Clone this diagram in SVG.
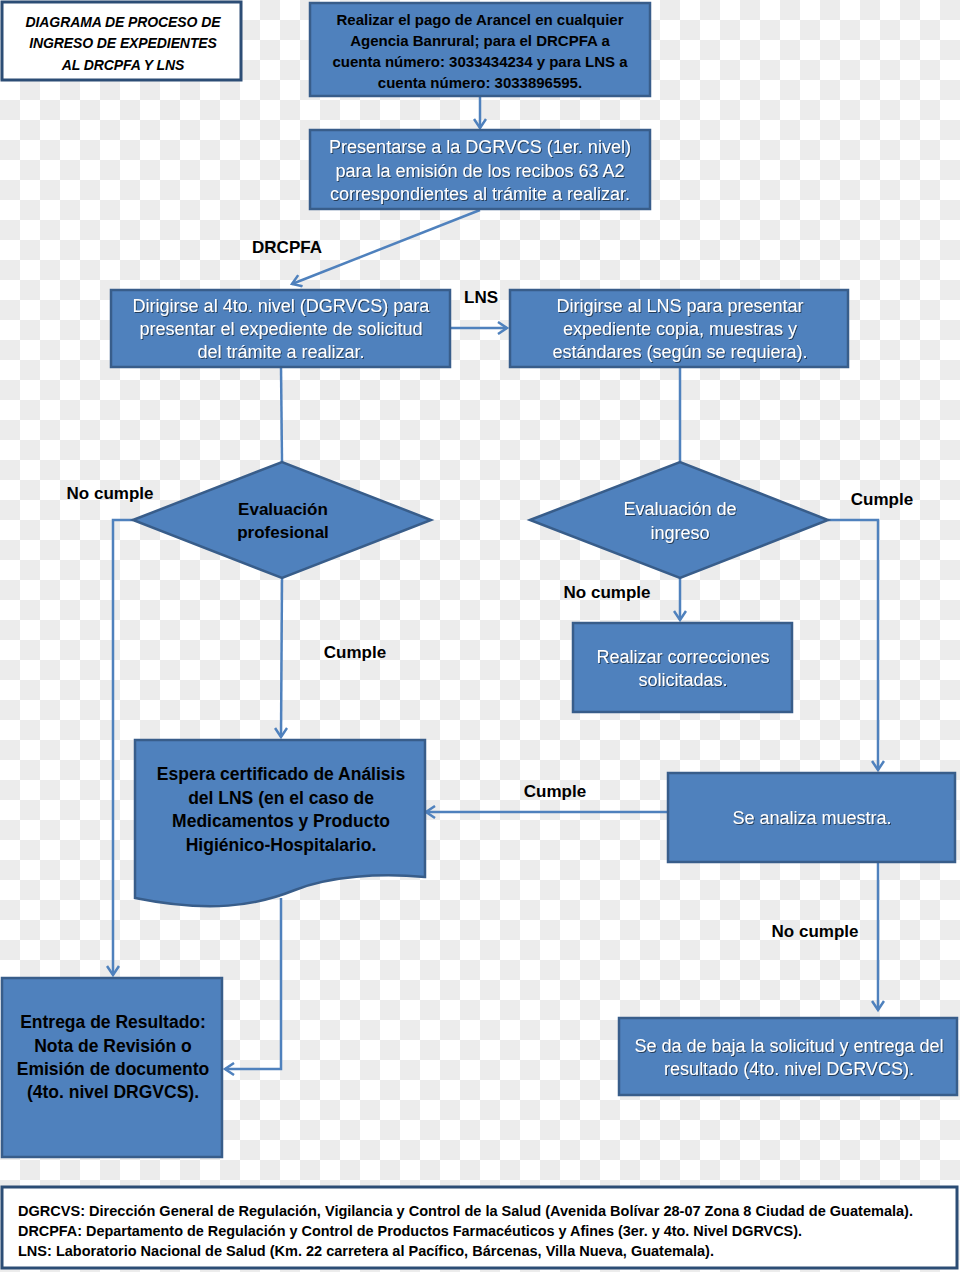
<svg xmlns="http://www.w3.org/2000/svg" width="960" height="1272" viewBox="0 0 960 1272">
<defs>
<pattern id="chk" width="40" height="40" patternUnits="userSpaceOnUse">
<rect width="40" height="40" fill="#ffffff"/>
<rect x="20" y="0" width="20" height="20" fill="#ececec"/>
<rect x="0" y="20" width="20" height="20" fill="#ececec"/>
</pattern>
<marker id="arr" markerWidth="14" markerHeight="14" refX="11" refY="7" orient="auto" markerUnits="userSpaceOnUse">
<path d="M2,1 L11,7 L2,13" fill="none" stroke="#4f81bd" stroke-width="2.5"/>
</marker>
<filter id="sh" x="-5%" y="-20%" width="110%" height="140%">
<feDropShadow dx="1" dy="1" stdDeviation="0.4" flood-color="#1a2a40" flood-opacity="0.8"/>
</filter>
</defs>
<style>
.box{fill:#4f81bd;stroke:#385d8a;stroke-width:2.5}
.wbox{fill:#ffffff;stroke:#2c4d75;stroke-width:3}
.con{fill:none;stroke:#4f81bd;stroke-width:2.5}
.wt{font-family:"Liberation Sans",Arial,sans-serif;font-size:18px;fill:#ffffff;text-anchor:middle}
.bt{font-family:"Liberation Sans",Arial,sans-serif;font-size:15px;font-weight:bold;fill:#000000;text-anchor:middle}
.bt2{font-family:"Liberation Sans",Arial,sans-serif;font-size:17.5px;font-weight:bold;fill:#000000;text-anchor:middle}
.lbl{font-family:"Liberation Sans",Arial,sans-serif;font-size:17px;font-weight:bold;fill:#000000;text-anchor:middle}
.tt{font-family:"Liberation Sans",Arial,sans-serif;font-size:14px;font-weight:bold;font-style:italic;fill:#000000;text-anchor:middle;letter-spacing:-0.1px}
.lg{font-family:"Liberation Sans",Arial,sans-serif;font-size:14px;font-weight:bold;fill:#000000}
</style>
<rect width="960" height="1272" fill="url(#chk)"/>

<g id="connectors">
<line class="con" x1="480" y1="96" x2="480" y2="128" marker-end="url(#arr)"/>
<line class="con" x1="480" y1="210" x2="292" y2="284" marker-end="url(#arr)"/>
<line class="con" x1="450" y1="328" x2="507" y2="328" marker-end="url(#arr)"/>
<line class="con" x1="281" y1="367" x2="282" y2="462"/>
<line class="con" x1="680" y1="367" x2="680" y2="462"/>
<polyline class="con" points="133,520 113,520 113,975" marker-end="url(#arr)"/>
<line class="con" x1="282" y1="578" x2="281" y2="737" marker-end="url(#arr)"/>
<line class="con" x1="680" y1="578" x2="680" y2="620" marker-end="url(#arr)"/>
<polyline class="con" points="828,520 878,520 878,770" marker-end="url(#arr)"/>
<line class="con" x1="668" y1="812" x2="426" y2="812" marker-end="url(#arr)"/>
<polyline class="con" points="281,898 281,1069 225,1069" marker-end="url(#arr)"/>
<line class="con" x1="878" y1="862" x2="878" y2="1010" marker-end="url(#arr)"/>
<text class="lbl" x="287" y="253">DRCPFA</text>
<text class="lbl" x="481" y="303">LNS</text>
<text class="lbl" x="110" y="499">No cumple</text>
<text class="lbl" x="355" y="658">Cumple</text>
<text class="lbl" x="607" y="598">No cumple</text>
<text class="lbl" x="882" y="505">Cumple</text>
<text class="lbl" x="555" y="797">Cumple</text>
<text class="lbl" x="815" y="937">No cumple</text>
</g>

<g id="title">
<rect class="wbox" x="2" y="2" width="239" height="78"/>
<text class="tt" x="123" y="27">DIAGRAMA DE PROCESO DE</text>
<text class="tt" x="123" y="48">INGRESO DE EXPEDIENTES</text>
<text class="tt" x="123" y="70">AL DRCPFA Y LNS</text>
</g>

<g id="n1">
<rect class="box" x="310" y="3" width="340" height="93"/>
<text class="bt" x="480" y="25">Realizar el pago de Arancel en cualquier</text>
<text class="bt" x="480" y="46">Agencia Banrural; para el DRCPFA a</text>
<text class="bt" x="480" y="67">cuenta número: 3033434234 y para LNS a</text>
<text class="bt" x="480" y="88">cuenta número: 3033896595.</text>
</g>

<g id="n2">
<rect class="box" x="310" y="130" width="340" height="79"/>
<g filter="url(#sh)">
<text class="wt" x="480" y="153">Presentarse a la DGRVCS (1er. nivel)</text>
<text class="wt" x="480" y="177">para la emisión de los recibos 63 A2</text>
<text class="wt" x="480" y="200">correspondientes al trámite a realizar.</text>
</g>
</g>

<g id="n3">
<rect class="box" x="111" y="290" width="339" height="77"/>
<g filter="url(#sh)">
<text class="wt" x="281" y="312">Dirigirse al 4to. nivel (DGRVCS) para</text>
<text class="wt" x="281" y="335">presentar el expediente de solicitud</text>
<text class="wt" x="281" y="358">del trámite a realizar.</text>
</g>
</g>

<g id="n4">
<rect class="box" x="510" y="290" width="338" height="77"/>
<g filter="url(#sh)">
<text class="wt" x="680" y="312">Dirigirse al LNS para presentar</text>
<text class="wt" x="680" y="335">expediente copia, muestras y</text>
<text class="wt" x="680" y="358">estándares (según se requiera).</text>
</g>
</g>

<g id="d1">
<polygon class="box" points="133,520 282,462 431,520 282,578"/>
<text class="lbl" x="283" y="515">Evaluación</text>
<text class="lbl" x="283" y="538">profesional</text>
</g>

<g id="d2">
<polygon class="box" points="530,520 680,462 828,520 680,578"/>
<g filter="url(#sh)">
<text class="wt" x="680" y="515">Evaluación de</text>
<text class="wt" x="680" y="539">ingreso</text>
</g>
</g>

<g id="n5">
<rect class="box" x="573" y="623" width="219" height="89"/>
<g filter="url(#sh)">
<text class="wt" x="683" y="663">Realizar correcciones</text>
<text class="wt" x="683" y="686">solicitadas.</text>
</g>
</g>

<g id="n6">
<rect class="box" x="668" y="773" width="287" height="89"/>
<g filter="url(#sh)">
<text class="wt" x="812" y="824">Se analiza muestra.</text>
</g>
</g>

<g id="n7">
<path class="box" d="M135,740 H425 V877 C380,873 330,876 295,890 C255,906 210,913 135,898 Z"/>
<text class="bt2" x="281" y="780">Espera certificado de Análisis</text>
<text class="bt2" x="281" y="804">del LNS (en el caso de</text>
<text class="bt2" x="281" y="827">Medicamentos y Producto</text>
<text class="bt2" x="281" y="851">Higiénico-Hospitalario.</text>
</g>

<g id="n8">
<rect class="box" x="2" y="978" width="220" height="179"/>
<text class="bt2" x="113" y="1028">Entrega de Resultado:</text>
<text class="bt2" x="113" y="1052">Nota de Revisión o</text>
<text class="bt2" x="113" y="1075">Emisión de documento</text>
<text class="bt2" x="113" y="1098">(4to. nivel DRGVCS).</text>
</g>

<g id="n9">
<rect class="box" x="619" y="1018" width="338" height="77"/>
<g filter="url(#sh)">
<text class="wt" x="789" y="1052">Se da de baja la solicitud y entrega del</text>
<text class="wt" x="789" y="1075">resultado (4to. nivel DGRVCS).</text>
</g>
</g>

<g id="legend">
<rect class="wbox" x="2" y="1187" width="955" height="81"/>
<text class="lg" x="18" y="1216" textLength="895" lengthAdjust="spacingAndGlyphs">DGRCVS: Dirección General de Regulación, Vigilancia y Control de la Salud (Avenida Bolívar 28-07 Zona 8 Ciudad de Guatemala).</text>
<text class="lg" x="18" y="1236" textLength="784" lengthAdjust="spacingAndGlyphs">DRCPFA: Departamento de Regulación y Control de Productos Farmacéuticos y Afines (3er. y 4to. Nivel DGRVCS).</text>
<text class="lg" x="18" y="1256" textLength="696" lengthAdjust="spacingAndGlyphs">LNS: Laboratorio Nacional de Salud (Km. 22 carretera al Pacífico, Bárcenas, Villa Nueva, Guatemala).</text>
</g>
</svg>
